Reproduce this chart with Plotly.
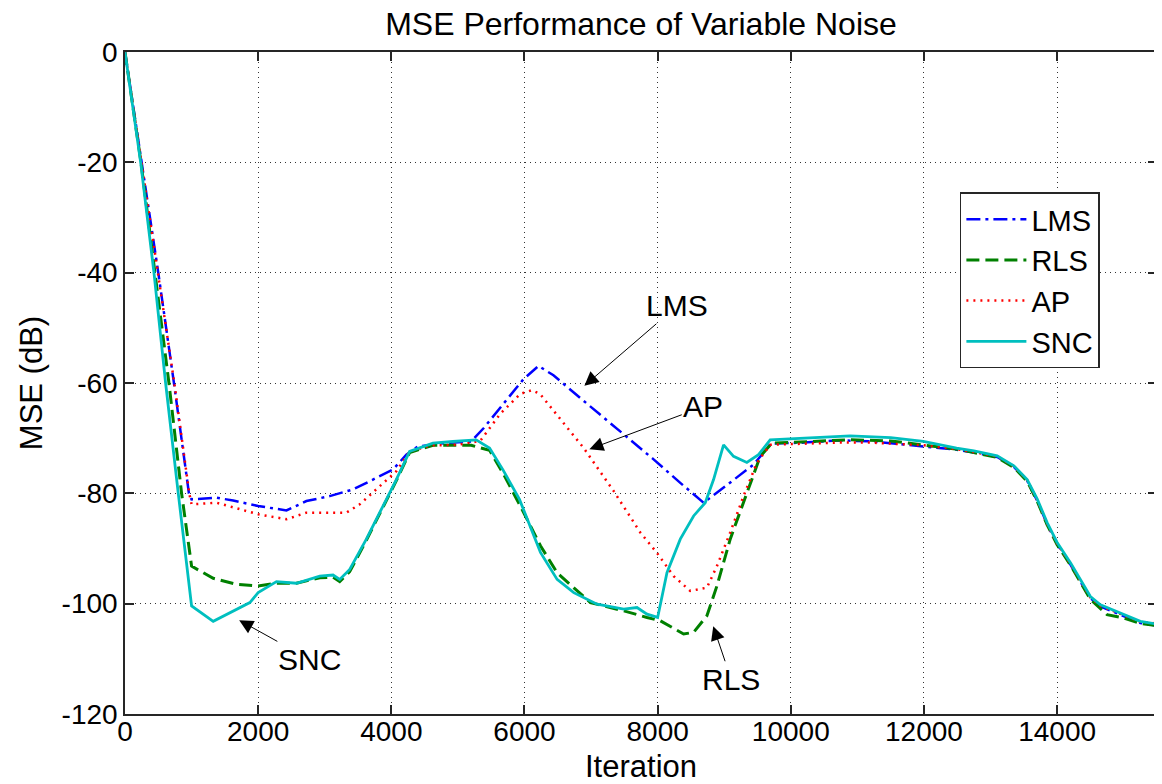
import plotly.graph_objects as go

# ---------------- data ----------------
lms_x = [0, 250, 500, 735, 960, 1000, 1375, 1625, 2000, 2425, 2725, 3075, 3425, 3775, 4025, 4225,
         4400, 4800, 5200, 5385, 5735, 5985, 6210, 6435, 6885, 7485, 7935, 8340, 8690, 9040, 9440,
         9700, 10200, 10740, 11240, 11990, 12490, 12750, 13100, 13350, 13550, 13700, 13850, 14000,
         14200, 14350, 14500, 14650, 14850, 15050, 15250, 15500]
lms_y = [0, -20, -40, -60, -80, -81.1, -80.8, -81.3, -82.3, -83.1, -81.4, -80.5, -79.3, -77.2, -75.7, -73.0,
         -71.5, -70.9, -70.6, -68.2, -63.0, -59.3, -56.9, -58.6, -63.2, -69.3, -73.8, -78.1, -81.7, -78.5, -74.8,
         -71.0, -70.8, -70.4, -70.6, -71.5, -72.1, -72.6, -73.4, -75.2, -77.7, -81.3, -85.6, -89.2,
         -92.9, -96.0, -99.0, -100.5, -101.5, -102.4, -103.5, -104.0]

rls_x = [0, 240, 450, 660, 850, 960, 1000, 1325, 1675, 2000, 2275, 2575, 2925, 3125, 3225, 3375, 3625,
         3875, 4075, 4275, 4625, 5200, 5475, 5675, 5925, 6240, 6490, 6990, 7490, 7840, 8040, 8390, 8540,
         8740, 8890, 9090, 9340, 9540, 9715, 10200, 10900, 11500, 12000, 12500, 12750, 13100, 13350,
         13550, 13700, 13850, 14000, 14200, 14350, 14500, 14750, 15000, 15250, 15500]
rls_y = [0, -20, -40, -60, -80, -90, -93.2, -95.4, -96.5, -96.8, -96.3, -96.3, -95.3, -95.2, -96.0, -94.2, -88.5,
         -82.5, -77.7, -72.6, -71.3, -71.3, -72.2, -76.3, -82.0, -89.5, -94.4, -99.8, -101.3, -102.5, -103.1, -105.5, -105.2,
         -102.2, -96.8, -88.3, -79.9, -73.3, -70.9, -70.6, -70.3, -70.5, -71.2, -72.0, -72.6, -73.5, -75.3,
         -77.8, -81.4, -85.7, -89.3, -93.0, -96.1, -99.2, -102.0, -102.6, -103.6, -104.0]

ap_x = [0, 250, 500, 740, 965, 1000, 1375, 1825, 2000, 2425, 2725, 3025, 3325, 3525, 3825, 4075, 4275,
        4600, 5000, 5335, 5635, 5935, 6110, 6235, 6890, 7340, 7740, 7990, 8240, 8490, 8740, 8890, 9090,
        9290, 9490, 9690, 10200, 10700, 11200, 12000, 12500, 12750, 13100, 13350, 13550, 13700, 13850,
        14000, 14200, 14350, 14500, 14650, 14850, 15050, 15250, 15500]
ap_y = [0, -20, -40, -60, -80, -82.0, -81.7, -83.2, -83.8, -84.7, -83.5, -83.5, -83.5, -82.0, -78.7, -76.0, -72.4,
        -71.3, -71.2, -70.5, -65.6, -62.0, -61.3, -62.0, -71.8, -79.6, -87.1, -90.8, -95.0, -97.7, -97.1, -93.2, -87.1,
        -80.5, -74.5, -71.2, -71.0, -70.8, -70.8, -71.3, -72.0, -72.5, -73.3, -75.1, -77.6, -81.2, -85.5,
        -89.1, -92.8, -95.9, -98.9, -100.4, -101.4, -102.3, -103.3, -103.6]

snc_x = [0, 235, 435, 610, 800, 1000, 1325, 1675, 1875, 2000, 2275, 2575, 2925, 3125, 3225, 3375, 3625,
         3875, 4075, 4275, 4625, 4925, 5275, 5475, 5675, 5925, 6240, 6490, 6740, 7090, 7490, 7690, 7840,
         8000, 8140, 8340, 8540, 8715, 8840, 8990, 9140, 9340, 9515, 9690, 10200, 10890, 11500, 11990,
         12490, 12750, 13100, 13350, 13550, 13700, 13850, 14000, 14200, 14350, 14500, 14650, 14850,
         15050, 15250, 15500]
snc_y = [0, -20, -40, -60, -80, -100.4, -103.2, -101.0, -99.8, -98.0, -96.0, -96.3, -95.0, -94.8, -95.6, -93.8, -88.3,
         -82.3, -77.5, -72.4, -70.9, -70.6, -70.3, -71.8, -75.7, -81.1, -90.7, -95.6, -98.0, -100.1, -101.0, -100.7, -101.9,
         -102.5, -94.4, -88.3, -84.1, -81.7, -77.5, -71.2, -73.3, -74.4, -73.0, -70.3, -70.0, -69.6, -69.9, -70.6,
         -71.8, -72.3, -73.2, -75.0, -77.5, -81.0, -85.3, -88.9, -92.6, -95.7, -98.7, -100.2, -101.2,
         -102.1, -103.2, -103.7]

x_ticks = [0, 2000, 4000, 6000, 8000, 10000, 12000, 14000]
y_ticks = [-120, -100, -80, -60, -40, -20, 0]

# annotation labels: (text, arrow head x, y, text centre x, y)
notes = [
    ("LMS", 6900, -60.5, 8295, -46.0),
    ("AP", 6975, -72.0, 8685, -64.3),
    ("RLS", 8835, -104.1, 9105, -113.7),
    ("SNC", 1715, -103.0, 2775, -110.1),
]

FONT = "Liberation Sans, Arial, Helvetica, sans-serif"

# the page body adds an 8px margin, so the figure is sized/offset to compensate
W, H = 1154, 776

fig = go.Figure()
fig.add_trace(go.Scatter(x=lms_x, y=lms_y, mode="lines", name="LMS",
                         line=dict(color="rgb(0,0,255)", width=2.5, dash="14px,5px,3px,5px")))
fig.add_trace(go.Scatter(x=rls_x, y=rls_y, mode="lines", name="RLS",
                         line=dict(color="rgb(0,128,0)", width=3, dash="13px,6px")))
fig.add_trace(go.Scatter(x=ap_x, y=ap_y, mode="lines", name="AP",
                         line=dict(color="rgb(255,0,0)", width=2.5, dash="2px,5px")))
fig.add_trace(go.Scatter(x=snc_x, y=snc_y, mode="lines", name="SNC",
                         line=dict(color="rgb(0,191,191)", width=2.8)))

for text, hx, hy, tx, ty in notes:
    fig.add_annotation(x=hx, y=hy, ax=tx, ay=ty, xref="x", yref="y", axref="x", ayref="y",
                       text=text, showarrow=True, arrowhead=2, arrowsize=2.8, arrowwidth=1,
                       arrowcolor="black", font=dict(size=30, color="black", family=FONT))

axis_common = dict(
    showline=True, linecolor="#262626", linewidth=1.5, mirror="ticks",
    ticks="inside", ticklen=9, tickwidth=1.5, tickcolor="#262626",
    showgrid=True, gridcolor="#333333", gridwidth=1, griddash="1px,4px",
    zeroline=False, tickfont=dict(size=28, color="black", family=FONT),
    automargin=False,
)

fig.update_xaxes(range=[0, 15500], tickvals=x_ticks, ticktext=[str(v) for v in x_ticks],
                 ticklabelstandoff=-8,
                 title=dict(text="Iteration", font=dict(size=31, color="black", family=FONT), standoff=16),
                 **axis_common)
fig.update_yaxes(range=[-120, 0], tickvals=y_ticks, ticktext=[str(v) for v in y_ticks],
                 title=dict(text="MSE (dB)", font=dict(size=31, color="black", family=FONT), standoff=10),
                 **axis_common)

fig.update_layout(
    width=W, height=H,
    margin=dict(l=117, r=5, t=44, b=70, autoexpand=False),
    paper_bgcolor="white", plot_bgcolor="white",
    font=dict(family=FONT, color="black"),
    title=dict(text="MSE Performance of Variable Noise", x=0.5, xref="paper", xanchor="center",
               y=1 - 16 / H, yanchor="middle", yref="container", automargin=False,
               font=dict(size=32, color="black", family=FONT)),
    legend=dict(x=0.809, y=0.788, xanchor="left", yanchor="top",
                bgcolor="white", bordercolor="#262626", borderwidth=1.5,
                font=dict(size=29, color="black", family=FONT),
                itemwidth=60, tracegroupgap=0),
    showlegend=True,
)

fig.write_html("out.html")
